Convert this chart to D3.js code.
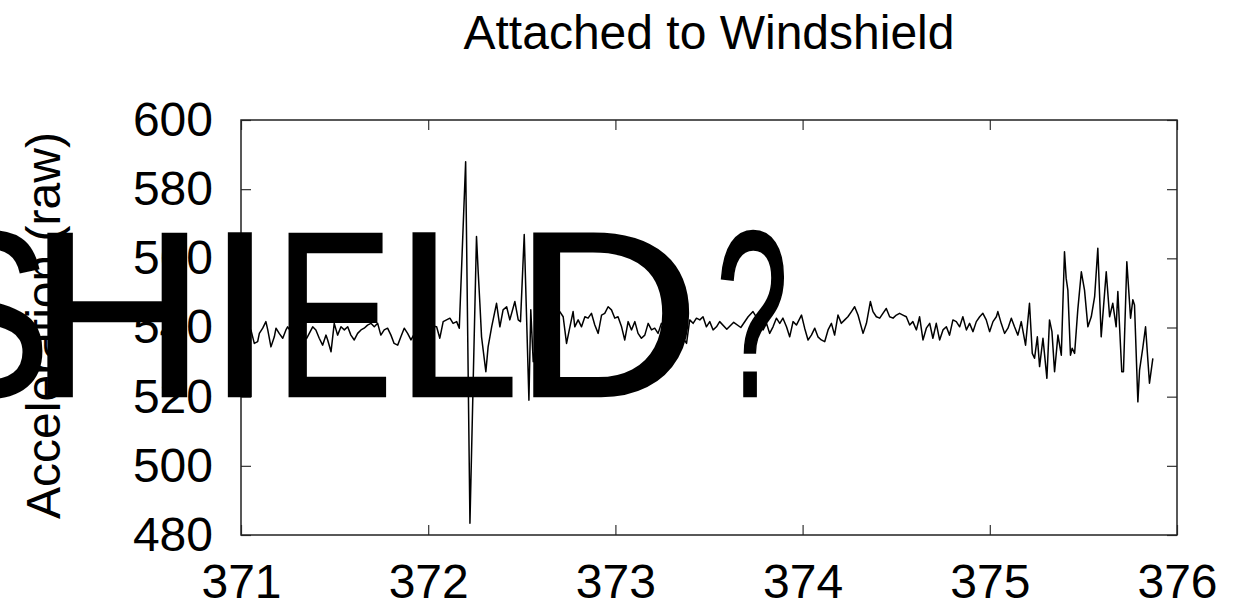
<!DOCTYPE html>
<html>
<head>
<meta charset="utf-8">
<script src="https://cdn.jsdelivr.net/npm/d3@7"></script>
<style>
  html, body { margin: 0; padding: 0; background: #fff; }
  svg { display: block; }
</style>
</head>
<body>
<div id="chart"></div>
<script>
// time (s), raw acceleration
var samples = [
  [371.000, 539.0], [371.053, 539.3], [371.071, 535.4], [371.089, 535.9], [371.098, 538.3],
  [371.116, 539.8], [371.133, 541.7], [371.143, 539.3], [371.160, 534.4], [371.178, 537.3],
  [371.187, 539.8], [371.204, 538.3], [371.223, 536.9], [371.240, 539.3], [371.249, 540.2],
  [371.283, 537.5], [371.315, 539.0], [371.350, 536.8], [371.383, 540.2], [371.400, 539.3],
  [371.418, 536.9], [371.436, 534.9], [371.454, 537.8], [371.463, 536.4], [371.481, 533.0],
  [371.498, 541.2], [371.516, 537.8], [371.534, 540.2], [371.552, 539.3], [371.570, 540.2],
  [371.587, 537.8], [371.605, 536.4], [371.623, 538.3], [371.641, 539.3], [371.658, 539.8],
  [371.676, 540.7], [371.694, 541.2], [371.712, 540.2], [371.730, 541.2], [371.747, 537.8],
  [371.765, 539.3], [371.783, 539.8], [371.801, 537.8], [371.818, 535.4], [371.837, 534.9],
  [371.854, 537.3], [371.872, 539.8], [371.890, 538.3], [371.908, 536.4], [371.940, 539.5],
  [371.977, 538.0], [372.010, 540.5], [372.045, 540.2], [372.062, 536.9], [372.080, 541.7],
  [372.098, 542.2], [372.116, 542.7], [372.133, 541.2], [372.152, 541.7], [372.166, 539.8],
  [372.200, 587.9], [372.223, 483.4], [372.258, 566.3], [372.267, 556.1], [372.276, 547.0],
  [372.285, 537.3], [372.308, 527.2], [372.320, 534.4], [372.339, 540.2], [372.365, 547.0],
  [372.383, 540.2], [372.400, 545.1], [372.419, 546.0], [372.436, 542.2], [372.463, 547.5],
  [372.481, 542.2], [372.493, 541.7], [372.513, 566.9], [372.538, 519.0], [372.548, 545.1],
  [372.561, 530.1], [372.590, 540.5], [372.628, 542.0], [372.665, 539.5], [372.703, 544.6],
  [372.721, 543.1], [372.739, 535.4], [372.757, 540.2], [372.774, 544.6], [372.783, 540.2],
  [372.801, 542.2], [372.819, 540.2], [372.837, 543.1], [372.854, 542.7], [372.872, 544.1],
  [372.890, 540.7], [372.908, 538.3], [372.926, 543.6], [372.943, 544.1], [372.961, 546.0],
  [372.979, 545.1], [372.997, 542.7], [373.014, 543.1], [373.033, 540.2], [373.050, 536.4],
  [373.068, 541.7], [373.086, 539.3], [373.104, 541.7], [373.121, 538.3], [373.139, 536.9],
  [373.157, 537.8], [373.175, 541.2], [373.193, 539.3], [373.210, 539.8], [373.228, 538.3],
  [373.246, 541.2], [373.280, 539.0], [373.312, 541.0], [373.345, 538.5], [373.380, 535.4],
  [373.397, 542.2], [373.415, 541.2], [373.433, 542.7], [373.451, 542.2], [373.468, 543.1],
  [373.486, 540.2], [373.504, 541.7], [373.522, 539.3], [373.540, 540.2], [373.557, 541.7],
  [373.595, 539.5], [373.632, 541.5], [373.670, 540.0], [373.709, 543.1], [373.735, 544.6],
  [373.762, 542.2], [373.789, 539.3], [373.807, 541.2], [373.824, 538.3], [373.842, 540.2],
  [373.860, 542.7], [373.878, 541.2], [373.895, 542.7], [373.914, 540.2], [373.931, 537.3],
  [373.949, 541.7], [373.967, 540.7], [373.994, 543.6], [374.011, 539.8], [374.029, 536.4],
  [374.047, 537.8], [374.065, 539.8], [374.082, 537.3], [374.100, 536.4], [374.118, 535.9],
  [374.136, 539.3], [374.154, 541.2], [374.171, 537.8], [374.189, 543.6], [374.207, 541.2],
  [374.225, 542.2], [374.242, 543.1], [374.261, 544.6], [374.278, 546.0], [374.296, 543.6],
  [374.323, 538.3], [374.341, 541.2], [374.362, 547.5], [374.376, 544.6], [374.394, 543.1],
  [374.412, 542.7], [374.429, 544.1], [374.447, 545.5], [374.465, 543.1], [374.483, 542.7],
  [374.501, 543.6], [374.518, 544.1], [374.536, 543.6], [374.554, 543.1], [374.572, 540.7],
  [374.589, 541.7], [374.608, 539.3], [374.625, 543.1], [374.643, 536.4], [374.661, 539.8],
  [374.679, 541.2], [374.696, 536.9], [374.714, 541.2], [374.732, 536.4], [374.750, 539.3],
  [374.768, 540.2], [374.785, 537.8], [374.803, 542.2], [374.821, 541.7], [374.839, 540.2],
  [374.856, 543.1], [374.875, 539.3], [374.892, 541.2], [374.910, 538.8], [374.928, 541.7],
  [374.946, 543.1], [374.963, 544.1], [374.981, 542.2], [374.999, 538.8], [375.017, 541.7],
  [375.035, 543.1], [375.043, 544.6], [375.061, 541.2], [375.079, 538.3], [375.097, 539.8],
  [375.115, 542.7], [375.132, 540.2], [375.150, 537.8], [375.168, 541.7], [375.191, 534.9],
  [375.212, 547.0], [375.227, 532.5], [375.239, 531.1], [375.254, 537.3], [375.266, 528.7],
  [375.284, 536.9], [375.305, 525.3], [375.319, 542.2], [375.332, 538.8], [375.346, 527.2],
  [375.364, 537.8], [375.382, 532.0], [375.399, 561.9], [375.408, 554.2], [375.417, 550.8],
  [375.431, 532.0], [375.440, 534.0], [375.453, 532.5], [375.470, 545.1], [375.489, 556.1],
  [375.506, 550.8], [375.524, 540.2], [375.542, 543.1], [375.560, 548.9], [375.577, 562.9],
  [375.595, 537.3], [375.622, 556.1], [375.640, 543.1], [375.657, 547.0], [375.675, 540.2],
  [375.684, 550.4], [375.705, 527.2], [375.714, 527.2], [375.732, 559.0], [375.752, 542.7],
  [375.764, 548.0], [375.773, 546.5], [375.791, 518.5], [375.800, 527.7], [375.817, 534.0],
  [375.832, 540.2], [375.853, 523.9], [375.871, 531.1]
];

var xTicks = [371, 372, 373, 374, 375, 376];
var yTicks = [480, 500, 520, 540, 560, 580, 600];
var chartTitle = "Attached to Windshield";
var yLabel = "Acceleration (raw)";
var overlayText = "SHIELD?";

var svgwidth = 1251;
var svgheight = 613;

var margin = { top: 120, right: 74, bottom: 78, left: 241 };
var width = svgwidth - margin.left - margin.right;
var height = svgheight - margin.top - margin.bottom;

var font = "'Liberation Sans', Arial, Helvetica, sans-serif";

var svg = d3.select("#chart")
  .append("svg")
  .attr("width", svgwidth)
  .attr("height", svgheight);

var chartGroup = svg.append("g")
  .attr("transform", `translate(${margin.left}, ${margin.top})`);

var xscale = d3.scaleLinear().domain([371, 376]).range([0, width]);
var yscale = d3.scaleLinear().domain([480, 600]).range([height, 0]);

// gnuplot style: ticks point inward, mirrored on top and right
function styleAxis(g) {
  g.select(".domain").remove();
  g.selectAll(".tick line").attr("stroke", "#333").attr("stroke-width", 1.2);
  g.selectAll("text")
    .attr("fill", "#000")
    .style("font-family", font)
    .style("font-size", "48px");
}

chartGroup.append("g")
  .attr("transform", `translate(0, ${height})`)
  .call(d3.axisBottom(xscale).tickValues(xTicks).tickSize(-10).tickPadding(29).tickFormat(d3.format("d")))
  .call(styleAxis);

chartGroup.append("g")
  .call(d3.axisTop(xscale).tickValues(xTicks).tickSize(-10).tickFormat(""))
  .call(styleAxis);

chartGroup.append("g")
  .call(d3.axisLeft(yscale).tickValues(yTicks).tickSize(-10).tickPadding(28).tickFormat(d3.format("d")))
  .call(styleAxis);

chartGroup.append("g")
  .attr("transform", `translate(${width}, 0)`)
  .call(d3.axisRight(yscale).tickValues(yTicks).tickSize(-10).tickFormat(""))
  .call(styleAxis);

chartGroup.append("rect")
  .attr("x", 0)
  .attr("y", 0)
  .attr("width", width)
  .attr("height", height)
  .attr("fill", "none")
  .attr("stroke", "#222")
  .attr("stroke-width", 1.5);

var line = d3.line()
  .x(d => xscale(d[0]))
  .y(d => yscale(d[1]));

chartGroup.append("path")
  .datum(samples)
  .attr("d", line)
  .attr("fill", "none")
  .attr("stroke", "#000")
  .attr("stroke-width", 1.5)
  .attr("stroke-linejoin", "round");

svg.append("text")
  .attr("x", margin.left + width / 2)
  .attr("y", 49)
  .attr("text-anchor", "middle")
  .style("font-family", font)
  .style("font-size", "48px")
  .text(chartTitle);

svg.append("text")
  .attr("transform", `translate(60, ${margin.top + height / 2 - 2}) rotate(-90)`)
  .attr("text-anchor", "middle")
  .style("font-family", font)
  .style("font-size", "48px")
  .text(yLabel);

// big overlay word: each glyph's ink is fitted to the left/right edges of the reference letter
var bigSize = 236;
var bigStroke = 2.5;
var glyphEdges = [[-72, 43], [47, 188], [227, 252], [288, 387], [412, 513], [533, 690], [720, 785]];

var ctx = document.createElement("canvas").getContext("2d");
ctx.font = bigSize + "px 'Liberation Sans', Arial, sans-serif";

var glyphs = overlayText.split("").map(function(ch, i) {
  var m = ctx.measureText(ch);
  var inkL = -m.actualBoundingBoxLeft;
  var inkR = m.actualBoundingBoxRight;
  var left = glyphEdges[i][0] + bigStroke / 2;
  var right = glyphEdges[i][1] - bigStroke / 2;
  var s = (right - left) / (inkR - inkL);
  return { ch: ch, x: left - inkL * s, len: m.width * s };
});

var big = svg.append("text")
  .attr("y", 396)
  .attr("fill", "#000")
  .attr("stroke", "#000")
  .attr("stroke-width", bigStroke)
  .style("font-family", font)
  .style("font-size", bigSize + "px");

big.selectAll("tspan")
  .data(glyphs)
  .enter()
  .append("tspan")
  .attr("x", d => d.x)
  .attr("textLength", d => d.len)
  .attr("lengthAdjust", "spacingAndGlyphs")
  .text(d => d.ch);
</script>
</body>
</html>
